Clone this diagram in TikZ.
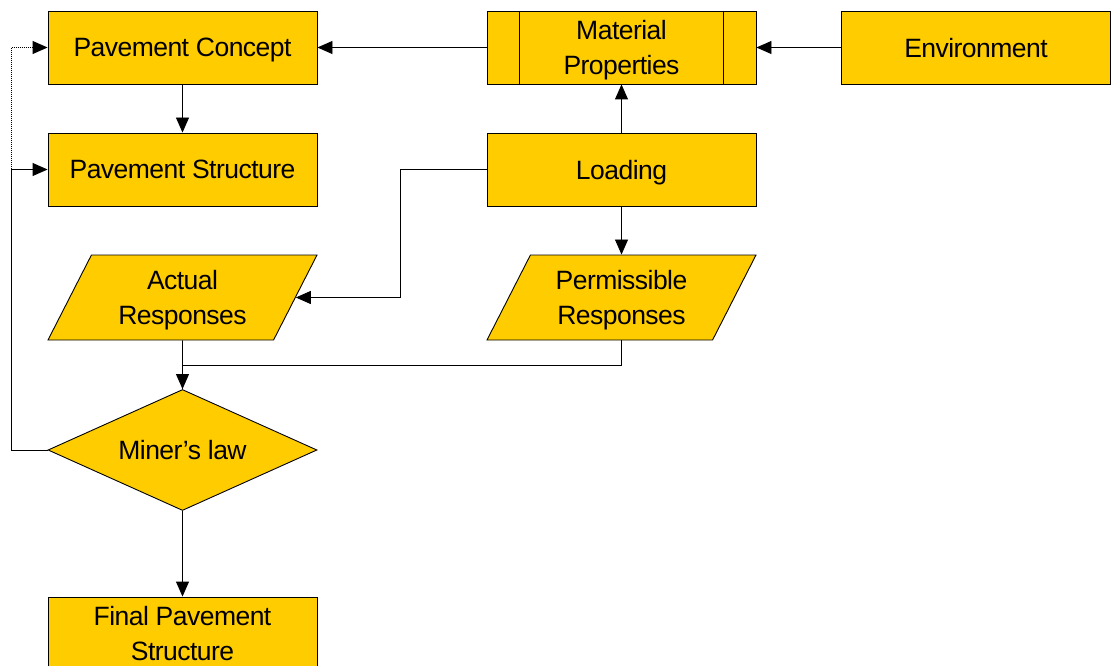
\documentclass[tikz,border=0pt]{standalone}
\usepackage{fontspec}
\setmainfont{Liberation Sans}[LetterSpace=-2]
\usetikzlibrary{arrows.meta,shapes.geometric}
\definecolor{boxfill}{HTML}{FFCC00}
\begin{document}
\begin{tikzpicture}[x=1pt,y=-1pt,
  every node/.style={font=\fontsize{26.5}{35}\selectfont, align=center, inner sep=0pt, text depth=0pt},
  box/.style={draw=black, fill=boxfill, line width=0.9pt, rectangle, minimum width=269pt, minimum height=73pt},
  para/.style={draw=black, fill=boxfill, line width=0.9pt, trapezium, trapezium left angle=51.3, trapezium right angle=128.7, trapezium stretches body=true, minimum width=269pt, minimum height=85pt},
  dia/.style={draw=black, fill=boxfill, line width=0.9pt, diamond, aspect=2.22, minimum width=269pt, minimum height=121pt},
  arr/.style={line width=0.9pt, -{Triangle[length=15pt,width=13pt]}},
  ln/.style={line width=0.9pt}]
\clip (0,0) rectangle (1112,666);
\fill[white] (0,0) rectangle (1112,666);
\node[box] (pc) at (182.5,47.5) {Pavement Concept};
\node[box] (ps) at (182.5,169.5) {Pavement Structure};
\node[box] (mat) at (621.5,47.5) {Material\\Properties};
\draw[ln] ([xshift=33pt]mat.north west) -- ([xshift=33pt]mat.south west);
\draw[ln] ([xshift=-33pt]mat.north east) -- ([xshift=-33pt]mat.south east);
\node[box] (env) at (976,47.5) {Environment};
\node[box] (load) at (621.5,169.5) {Loading};
\node[para] (act) at (182.5,297.5) {Actual\\Responses};
\node[para] (perm) at (621.5,297.5) {Permissible\\Responses};
\node[dia] (ml) at (182.5,450) {Miner’s law};
\node[box] (fin) at (182.5,633.5) {Final Pavement\\Structure};
\coordinate (lp) at (11.5,169.5);

\draw[arr] (env.west) -- (mat.east);
\draw[arr] (mat.west) -- (pc.east);
\draw[arr] (pc.south) -- (ps.north);
\draw[arr] (load.north) -- (mat.south);
\draw[arr] (load.south) -- (perm.north);
\draw[arr] (load.west) -- ++(-86,0) |- (act.east);
\draw[ln] (perm.south) -- ++(0,25) -| (ml.north);
\draw[arr] (act.south) -- (ml.north);
\draw[arr] (ml.south) -- (fin.north);
\draw[arr] (ml.west) -| (lp) -- (ps.west);
\draw[arr, dash pattern=on 1pt off 1pt] (lp) |- (pc.west);
\end{tikzpicture}
\end{document}
